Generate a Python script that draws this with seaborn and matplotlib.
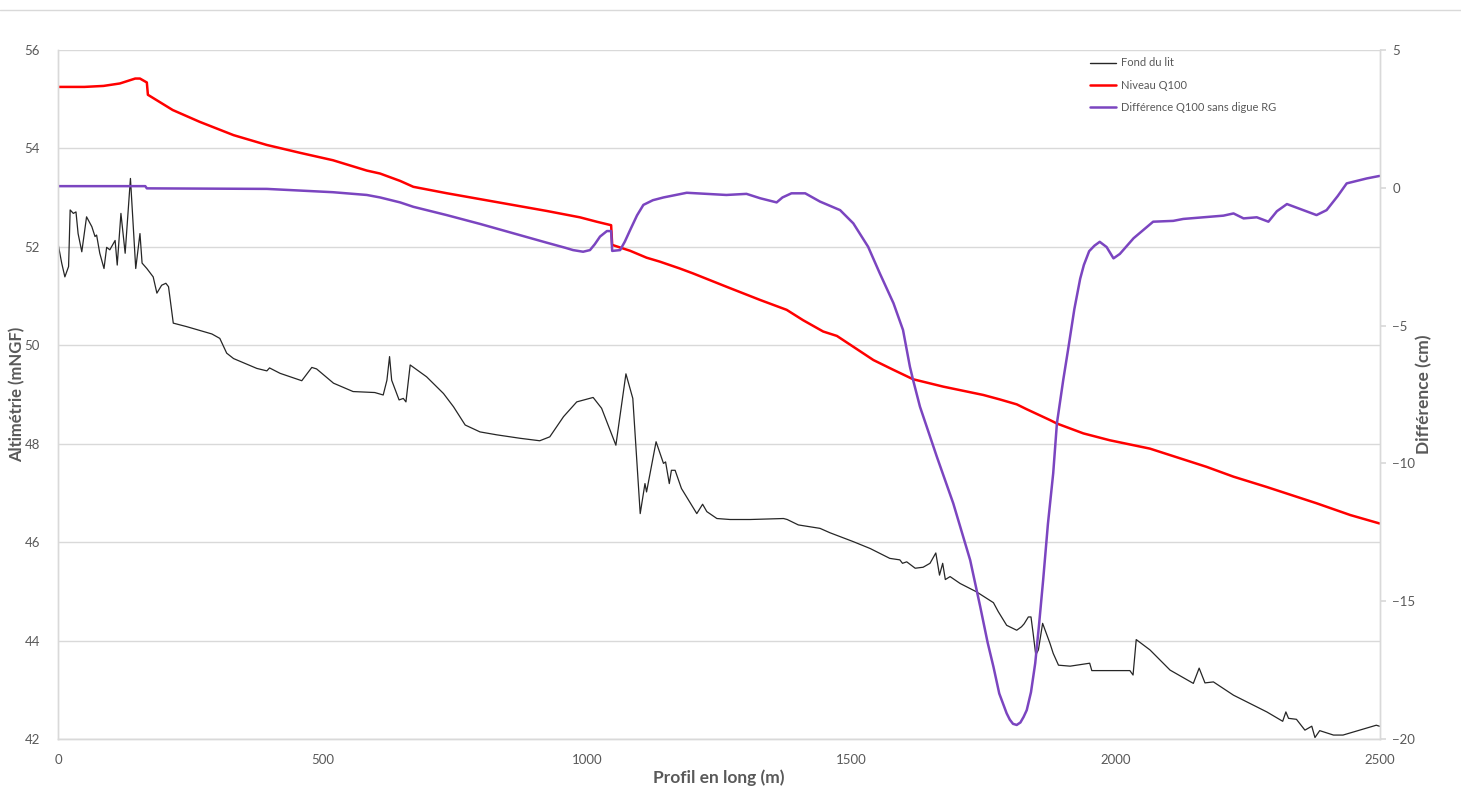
import matplotlib
matplotlib.use("Agg")
import matplotlib.pyplot as plt
import matplotlib.lines as mlines
import numpy as np
import pandas as pd
import seaborn as sns

# Profil en long : fond du lit (m NGF)
fond_x = [0, 7, 13, 20, 23, 29, 34, 38, 45, 54, 64, 70, 73, 79, 87, 92, 98, 108, 112, 119,
          127, 137, 147, 155, 159, 168, 180, 187, 196, 204, 209, 218, 243, 291, 306, 319, 332,
          376, 395, 400, 420, 461, 480, 489, 521, 558, 599, 615, 622, 627, 631, 639, 645, 653,
          658, 666, 697, 729, 748, 770, 798, 830, 874, 911, 930, 956, 981, 1012, 1028, 1055,
          1074, 1087, 1101, 1110, 1113, 1131, 1145, 1149, 1156, 1160, 1167, 1179, 1208, 1219,
          1227, 1246, 1271, 1309, 1372, 1379, 1400, 1441, 1460, 1504, 1536, 1573, 1592, 1597,
          1605, 1621, 1636, 1649, 1660, 1667, 1673, 1678, 1687, 1706, 1737, 1769, 1778, 1794,
          1813, 1822, 1827, 1835, 1840, 1844, 1849, 1854, 1862, 1876, 1882, 1892, 1914, 1951,
          1955, 2027, 2033, 2039, 2065, 2103, 2147, 2158, 2169, 2185, 2223, 2286, 2316, 2322,
          2327, 2342, 2358, 2371, 2377, 2386, 2412, 2430, 2493, 2499]
fond_z = [52.07, 51.67, 51.39, 51.60, 52.75, 52.68, 52.71, 52.27, 51.90, 52.61, 52.41, 52.21,
          52.24, 51.87, 51.56, 51.99, 51.94, 52.13, 51.63, 52.68, 51.87, 53.39, 51.56, 52.27,
          51.67, 51.56, 51.39, 51.06, 51.22, 51.26, 51.19, 50.45, 50.38, 50.23, 50.14, 49.84,
          49.73, 49.53, 49.48, 49.54, 49.43, 49.28, 49.55, 49.52, 49.23, 49.06, 49.04, 48.99,
          49.29, 49.77, 49.29, 49.06, 48.89, 48.92, 48.85, 49.60, 49.36, 49.02, 48.75, 48.38,
          48.24, 48.18, 48.11, 48.06, 48.14, 48.55, 48.85, 48.94, 48.72, 47.97, 49.42, 48.92,
          46.58, 47.19, 47.02, 48.04, 47.60, 47.63, 47.19, 47.46, 47.46, 47.09, 46.58, 46.77,
          46.62, 46.48, 46.46, 46.46, 46.48, 46.46, 46.35, 46.28, 46.19, 46.01, 45.87, 45.67,
          45.64, 45.57, 45.60, 45.47, 45.49, 45.57, 45.78, 45.33, 45.57, 45.24, 45.30, 45.16,
          44.99, 44.77, 44.59, 44.31, 44.21, 44.28, 44.34, 44.48, 44.48, 44.15, 43.71, 43.81,
          44.35, 43.94, 43.74, 43.50, 43.48, 43.54, 43.39, 43.39, 43.30, 44.02, 43.81, 43.40,
          43.13, 43.44, 43.14, 43.16, 42.89, 42.55, 42.36, 42.55, 42.42, 42.40, 42.18, 42.26,
          42.03, 42.17, 42.08, 42.08, 42.28, 42.26]

# Ligne d'eau Q100 (m NGF)
q100_x = [0, 50, 86, 117, 146, 155, 168, 170, 217, 268, 332, 395, 458, 520, 584, 609, 647,
          672, 735, 798, 861, 924, 987, 1019, 1046, 1048, 1082, 1113, 1138, 1176, 1201, 1264,
          1328, 1378, 1409, 1447, 1473, 1504, 1542, 1580, 1617, 1674, 1750, 1781, 1813, 1832,
          1876, 1889, 1939, 1989, 2065, 2172, 2223, 2286, 2380, 2444, 2499]
q100_z = [55.25, 55.25, 55.27, 55.32, 55.42, 55.42, 55.34, 55.09, 54.78, 54.54, 54.27, 54.07,
          53.91, 53.76, 53.55, 53.49, 53.34, 53.22, 53.09, 52.97, 52.85, 52.73, 52.60, 52.51,
          52.44, 52.04, 51.92, 51.78, 51.70, 51.56, 51.46, 51.19, 50.92, 50.72, 50.51, 50.28,
          50.19, 49.97, 49.70, 49.50, 49.31, 49.16, 48.99, 48.90, 48.80, 48.70, 48.48, 48.41,
          48.21, 48.07, 47.90, 47.53, 47.33, 47.12, 46.79, 46.55, 46.38]

# Différence de niveau Q100 sans digue rive gauche (cm)
diff_x = [0, 165, 168, 395, 520, 584, 609, 647, 672, 735, 798, 861, 924, 960, 974, 993, 1006,
          1015, 1025, 1038, 1046, 1048, 1063, 1072, 1082, 1095, 1107, 1125, 1145, 1189, 1264,
          1302, 1328, 1359, 1370, 1387, 1413, 1441, 1479, 1504, 1532, 1554, 1580, 1598, 1611,
          1617, 1630, 1662, 1693, 1725, 1744, 1758, 1769, 1780, 1794, 1800, 1806, 1813, 1820,
          1826, 1832, 1840, 1848, 1855, 1863, 1872, 1882, 1889, 1901, 1910, 1922, 1933, 1940,
          1950, 1960, 1970, 1983, 1996, 2008, 2034, 2071, 2109, 2128, 2204, 2223, 2242, 2267,
          2289, 2305, 2324, 2380, 2399, 2420, 2437, 2475, 2499]
diff_cm = [0.06, 0.06, -0.02, -0.04, -0.16, -0.26, -0.35, -0.53, -0.69, -0.99, -1.31, -1.65,
           -1.99, -2.18, -2.26, -2.32, -2.26, -2.05, -1.77, -1.57, -1.57, -2.29, -2.26, -1.95,
           -1.53, -1.00, -0.62, -0.45, -0.35, -0.18, -0.26, -0.22, -0.38, -0.53, -0.35, -0.20,
           -0.20, -0.50, -0.81, -1.29, -2.14, -3.10, -4.19, -5.16, -6.49, -6.97, -7.94, -9.76,
           -11.45, -13.51, -15.20, -16.50, -17.38, -18.35, -19.07, -19.30, -19.45, -19.49,
           -19.40, -19.20, -18.95, -18.30, -17.25, -15.90, -14.23, -12.20, -10.36, -8.55, -6.97,
           -5.89, -4.40, -3.30, -2.80, -2.30, -2.10, -1.96, -2.15, -2.56, -2.40, -1.83, -1.23,
           -1.20, -1.13, -1.01, -0.93, -1.11, -1.07, -1.23, -0.85, -0.59, -0.99, -0.81, -0.30,
           0.16, 0.34, 0.43]

labels = ["Fond du lit", "Niveau Q100", "Différence Q100 sans digue RG"]
colors = ["#262626", "#FF0000", "#7B45C0"]

sns.set_theme(style="white")
plt.rcParams["font.family"] = ["Lato", "DejaVu Sans"]

grey_txt = "#595959"
grid_c = "#d9d9d9"

fig = plt.figure(figsize=(14.61, 8.0), dpi=100)
ax = fig.add_axes([58 / 1461, 1 - 739 / 800, (1380 - 58) / 1461, (739 - 50) / 800])
ax2 = ax.twinx()

df_fond = pd.DataFrame({"x": fond_x, "z": fond_z})
df_q100 = pd.DataFrame({"x": q100_x, "z": q100_z})
df_diff = pd.DataFrame({"x": diff_x, "d": diff_cm})

sns.lineplot(data=df_fond, x="x", y="z", ax=ax, color=colors[0], lw=0.9, estimator=None)
sns.lineplot(data=df_q100, x="x", y="z", ax=ax, color=colors[1], lw=1.8, estimator=None)
sns.lineplot(data=df_diff, x="x", y="d", ax=ax2, color=colors[2], lw=1.8, estimator=None)

ax.set_xlim(0, 2500)
ax.set_ylim(42, 56)
ax.set_yticks(np.arange(42, 57, 2))
ax.set_xticks(np.arange(0, 2501, 500))
ax2.set_ylim(-20, 5)
ax2.set_yticks(np.arange(-20, 6, 5))

ax.yaxis.grid(True, color=grid_c, lw=1.0)
ax.xaxis.grid(False)
ax2.grid(False)

for a in (ax, ax2):
    for s in a.spines.values():
        s.set_color(grid_c)
        s.set_linewidth(1.0)
    a.spines["top"].set_visible(False)

ax.tick_params(axis="y", left=False, labelsize=9.5, labelcolor=grey_txt, pad=7)
ax.tick_params(axis="x", bottom=False, labelsize=9.5, labelcolor=grey_txt, pad=5)
ax2.tick_params(axis="y", right=True, length=4, color=grid_c, labelsize=9.5,
                labelcolor=grey_txt, pad=5)

ax.set_xlabel("Profil en long (m)", fontsize=12.5, fontweight="bold", color=grey_txt)
ax.set_ylabel("Altimétrie (mNGF)", fontsize=12, fontweight="bold", color=grey_txt)
ax2.set_ylabel("Différence (cm)", fontsize=12.5, fontweight="bold", color=grey_txt)
ax.xaxis.set_label_coords(0.5, -0.044)
ax.yaxis.set_label_coords(-0.025, 0.5)
ax2.yaxis.set_label_coords(1.027, 0.5)

handles = [mlines.Line2D([], [], color=c, lw=w) for c, w in zip(colors, [1.0, 1.8, 1.8])]
leg = ax2.legend(handles, labels, loc="upper left",
                 bbox_to_anchor=(1086 / 1461, 1 - 53 / 800), bbox_transform=fig.transFigure,
                 frameon=False, fontsize=8, handlelength=2.3, handletextpad=0.45,
                 labelspacing=1.0, borderaxespad=0)
for t in leg.get_texts():
    t.set_color(grey_txt)

# thin frame line across the top of the chart area
fig.add_artist(mlines.Line2D([0, 1], [1 - 10 / 800, 1 - 10 / 800],
                             transform=fig.transFigure, color=grid_c, lw=1.0))

fig.savefig("out.png", dpi=100, facecolor="white")
